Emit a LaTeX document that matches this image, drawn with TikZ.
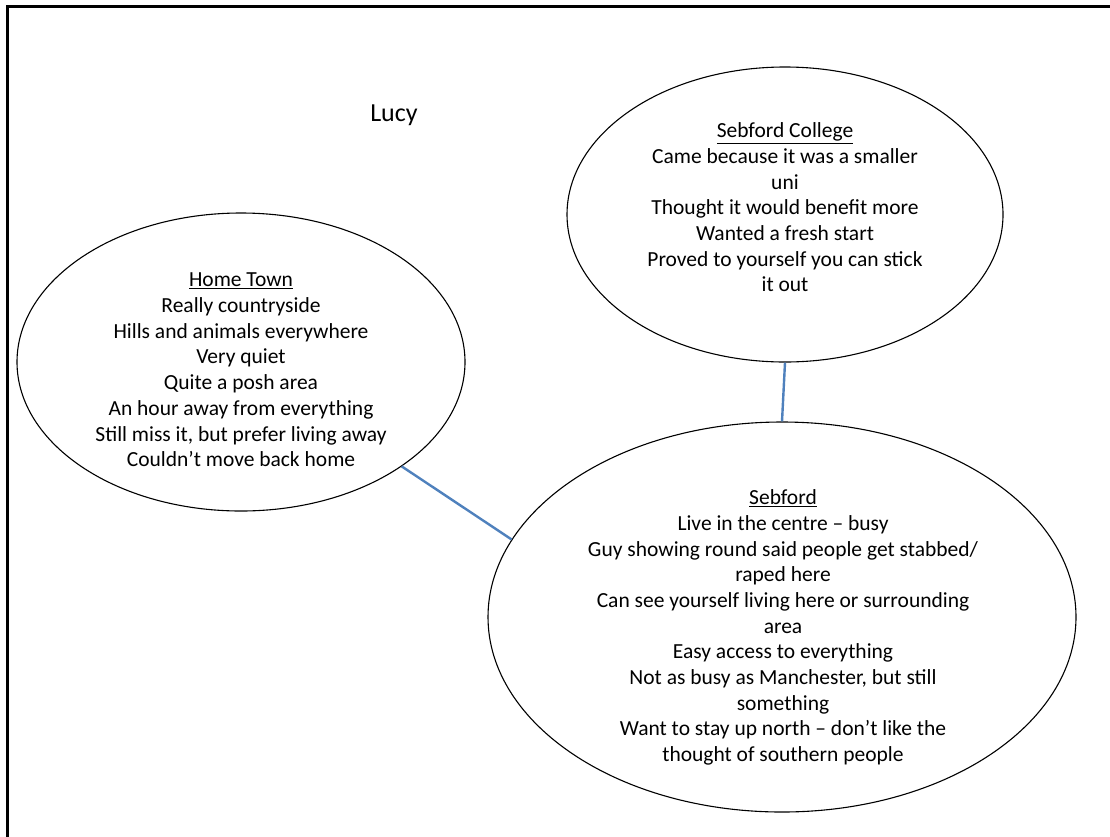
\documentclass[tikz,border=0pt]{standalone}
\usepackage{fontspec}
\setmainfont{Carlito}
\usetikzlibrary{shapes.geometric}
\definecolor{linkblue}{RGB}{79,129,189}
\tikzset{
  bubble/.style={ellipse, draw=black, line width=1.1pt, fill=white, inner sep=0pt},
  notes/.style={align=center, inner sep=0pt, font=\fontsize{21.5}{25.7}\selectfont},
  link/.style={draw=linkblue, line width=2.4pt}
}
\begin{document}
\begin{tikzpicture}[x=1pt,y=-1pt]
\useasboundingbox (0,0) rectangle (1110,836);
\fill[white] (0,0) rectangle (1110,836);
% page frame, open to the right and bottom
\begin{scope}
\clip (0,0) rectangle (1110,836);
\draw[line width=3pt] (7.5,850) -- (7.5,6.5) -- (1120,6.5);
\end{scope}

\node[font=\fontsize{26}{30}\selectfont, inner sep=0pt] (title) at (394,115) {Lucy};

% bubbles
\node[bubble, minimum width=436pt, minimum height=295pt] (college) at (785,214.5) {};
\node[bubble, minimum width=448pt, minimum height=298pt] (home) at (241,362) {};
\node[bubble, minimum width=588pt, minimum height=390pt] (town) at (782,617) {};

% connectors
\draw[link] (home.-33.4) -- (town.164.6);
\draw[link] (college.-90) -- (town.90);

% texts
\node[notes] (collegetext) at (785,207.5) {\underline{Sebford College}\\
Came because it was a smaller\\
uni\\
Thought it would benefit more\\
Wanted a fresh start\\
Proved to yourself you can stick\\
it out};

\node[notes] (hometext) at (241,370) {\underline{Home Town}\\
Really countryside\\
Hills and animals everywhere\\
Very quiet\\
Quite a posh area\\
An hour away from everything\\
Still miss it, but prefer living away\\
Couldn’t move back home};

\node[notes] (towntext) at (783,627.5) {\underline{Sebford}\\
Live in the centre – busy\\
Guy showing round said people get stabbed/\\
raped here\\
Can see yourself living here or surrounding\\
area\\
Easy access to everything\\
Not as busy as Manchester, but still\\
something\\
Want to stay up north – don’t like the\\
thought of southern people};
\end{tikzpicture}
\end{document}
